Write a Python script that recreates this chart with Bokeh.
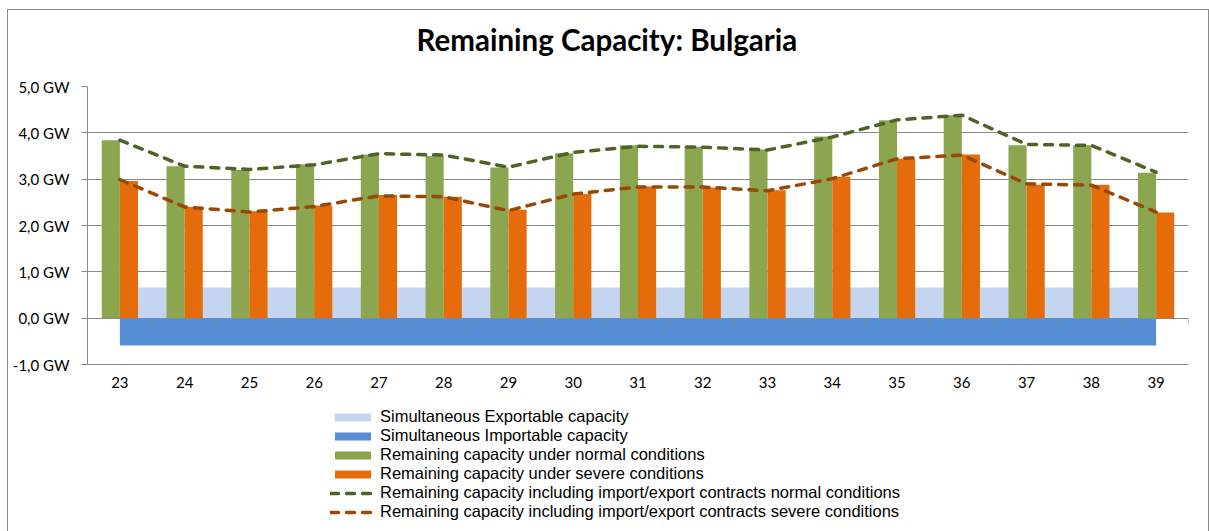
from bokeh.plotting import figure
from bokeh.layouts import column
from bokeh.models import (ColumnDataSource, FixedTicker, Legend, LegendItem, Title, Range1d)
from bokeh.transform import dodge
from bokeh.embed import file_html
from bokeh.resources import INLINE

# ---- data ----
weeks = [23, 24, 25, 26, 27, 28, 29, 30, 31, 32, 33, 34, 35, 36, 37, 38, 39]
normal = [3.84, 3.28, 3.20, 3.32, 3.53, 3.50, 3.25, 3.56, 3.73, 3.70, 3.64, 3.92, 4.27, 4.38, 3.73, 3.73, 3.14]
severe = [2.96, 2.40, 2.31, 2.43, 2.66, 2.62, 2.34, 2.68, 2.84, 2.82, 2.76, 3.05, 3.44, 3.53, 2.88, 2.88, 2.28]
normal_contracts = [3.84, 3.28, 3.21, 3.31, 3.55, 3.52, 3.26, 3.58, 3.71, 3.69, 3.63, 3.91, 4.28, 4.38, 3.75, 3.73, 3.15]
severe_contracts = [2.99, 2.40, 2.29, 2.41, 2.64, 2.62, 2.32, 2.68, 2.83, 2.83, 2.75, 3.01, 3.44, 3.52, 2.90, 2.87, 2.29]
exportable = [0.66, 0.66, 0.66, 0.66, 0.66, 0.66, 0.66, 0.66, 0.66, 0.66, 0.66, 0.66, 0.66, 0.66, 0.66, 0.66, 0.66]
importable = [-0.59, -0.59, -0.59, -0.59, -0.59, -0.59, -0.59, -0.59, -0.59, -0.59, -0.59, -0.59, -0.59, -0.59, -0.59, -0.59, -0.59]
y_ticks = [-1, 0, 1, 2, 3, 4, 5]
y_tick_labels = ["-1,0 GW", "0,0 GW", "1,0 GW", "2,0 GW", "3,0 GW", "4,0 GW", "5,0 GW"]
title_text = "Remaining Capacity: Bulgaria"
labels = [
    "Simultaneous Exportable capacity",
    "Simultaneous Importable capacity",
    "Remaining capacity under normal conditions",
    "Remaining capacity under severe conditions",
    "Remaining capacity including import/export contracts normal conditions",
    "Remaining capacity including import/export contracts severe conditions",
]

FONT = "Lato"
LEG_FONT = "Liberation Sans"
GRID = "#898989"
C_EXP, C_IMP, C_N, C_S, C_NC, C_SC = "#C6D5EF", "#558ED5", "#8BA64F", "#E46C0A", "#4F6228", "#984807"

src = ColumnDataSource(dict(
    week=weeks, normal=normal, severe=severe,
    normal_c=normal_contracts, severe_c=severe_contracts,
    exp=exportable, imp=importable, zero=[0] * len(weeks),
    bound=[w + 0.5 for w in weeks],
))


def draw_series(fig):
    r_exp = fig.varea(x="week", y1="zero", y2="exp", source=src, fill_color=C_EXP)
    r_imp = fig.varea(x="week", y1="imp", y2="zero", source=src, fill_color=C_IMP)
    fig.segment(x0="bound", x1="bound", y0="zero", y1=-0.13, source=src, line_color=GRID, line_width=1)
    r_n = fig.vbar(x=dodge("week", -0.14), top="normal", width=0.28, source=src, fill_color=C_N, line_color=None)
    r_s = fig.vbar(x=dodge("week", 0.14), top="severe", width=0.28, source=src, fill_color=C_S, line_color=None)
    r_nc = fig.line(x="week", y="normal_c", source=src, line_color=C_NC, line_width=3.5,
                    line_dash="8 8", line_cap="round")
    r_sc = fig.line(x="week", y="severe_c", source=src, line_color=C_SC, line_width=3.5,
                    line_dash="8 8", line_cap="round")
    return [r_exp, r_imp, r_n, r_s, r_nc, r_sc]


def blank(fig):
    fig.axis.visible = False
    fig.grid.visible = False
    fig.outline_line_color = None
    fig.border_fill_color = "white"
    fig.background_fill_color = "white"


# ---- title strip ----
pt = figure(width=1200, height=64, output_backend="svg", toolbar_location=None,
            x_range=Range1d(0, 1), y_range=Range1d(0, 1),
            min_border_left=79, min_border_right=20, min_border_top=0, min_border_bottom=0)
blank(pt)
pt.add_layout(Title(text=title_text, align="left", offset=329, vertical_align="top",
                    text_font=FONT, text_font_size="29.5px", text_font_style="bold",
                    text_color="black", standoff=23), "above")

# ---- main chart ----
p = figure(width=1200, height=326, output_backend="svg", toolbar_location=None,
           x_range=Range1d(weeks[0] - 0.5, weeks[-1] + 0.5),
           y_range=Range1d(y_ticks[0], y_ticks[-1]),
           min_border_left=79, min_border_right=20, min_border_top=12, min_border_bottom=36)
p.outline_line_color = None
p.background_fill_color = "white"
p.border_fill_color = "white"
draw_series(p)

p.yaxis.ticker = FixedTicker(ticks=y_ticks)
p.yaxis.major_label_overrides = {t: l for t, l in zip(y_ticks, y_tick_labels)}
p.yaxis.axis_line_color = GRID
p.yaxis.major_tick_line_color = GRID
p.yaxis.major_tick_out = 6
p.yaxis.major_tick_in = 0
p.yaxis.minor_tick_line_color = None
p.yaxis.major_label_text_font = FONT
p.yaxis.major_label_text_font_size = "15px"
p.yaxis.major_label_text_color = "black"
p.yaxis.major_label_standoff = 12

p.xaxis.ticker = FixedTicker(ticks=weeks)
p.xaxis.axis_line_color = GRID
p.xaxis.major_tick_line_color = None
p.xaxis.minor_tick_line_color = None
p.xaxis.major_label_text_font = FONT
p.xaxis.major_label_text_font_size = "15px"
p.xaxis.major_label_text_color = "black"
p.xaxis.major_label_standoff = 6

p.xgrid.grid_line_color = None
p.ygrid.ticker = FixedTicker(ticks=y_ticks)
p.ygrid.grid_line_color = GRID
p.ygrid.grid_line_width = 1

# ---- legend strip (same series, drawn out of view; only the legend shows) ----
pl = figure(width=1200, height=131, output_backend="svg", toolbar_location=None,
            x_range=Range1d(0, 1), y_range=Range1d(100, 101),
            min_border_left=79, min_border_right=20, min_border_top=0, min_border_bottom=0)
blank(pl)
rs = draw_series(pl)
legend = Legend(items=[LegendItem(label=lab, renderers=[r]) for lab, r in zip(labels, rs)],
                location=(243, 10), orientation="vertical",
                glyph_width=45, glyph_height=10, label_height=17, spacing=0,
                label_standoff=5, padding=0, margin=0, border_line_color=None,
                background_fill_alpha=0, label_text_font=LEG_FONT, label_text_font_size="16.5px",
                label_text_color="black")
pl.add_layout(legend, "center")

layout = column(pt, p, pl, spacing=0,
                styles={"border-left": "1px solid #898989", "border-top": "1px solid #898989",
                        "border-right": "1px solid #898989", "margin-left": "7px", "margin-top": "9px"})

open("out.html", "w").write(file_html(layout, INLINE))
